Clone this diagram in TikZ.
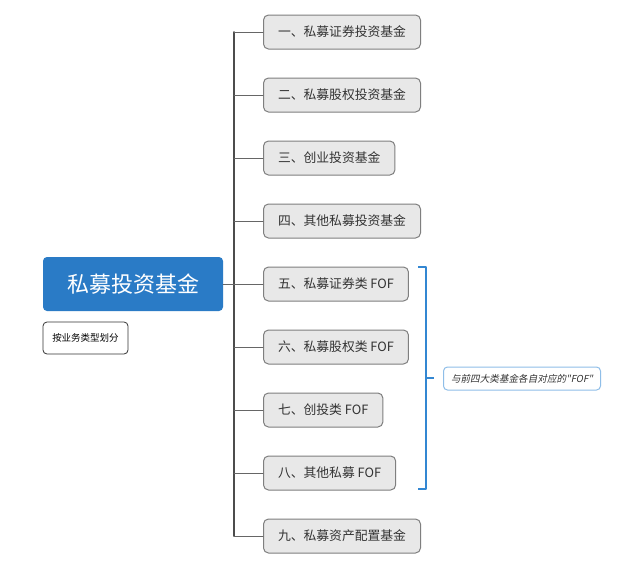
\documentclass[tikz,border=0pt]{standalone}
\usepackage{fontspec}
\usepackage{xcolor}
\usepackage{tikz}
\usetikzlibrary{positioning}
\newfontfamily\cjk{Noto Sans CJK SC}
\newfontfamily\cjkslant[FakeSlant=0.2]{Noto Sans CJK SC}
\definecolor{rootblue}{HTML}{2A7BC6}
\definecolor{bracketblue}{HTML}{3387D2}
\definecolor{noteblue}{HTML}{8FBEE8}
\definecolor{boxgray}{HTML}{E8E8E8}
\definecolor{edgegray}{HTML}{7F7F7F}
\definecolor{textgray}{HTML}{333333}
\tikzset{
  rootbox/.style={rectangle,rounded corners=4pt,fill=rootblue,text=white,
    minimum width=180pt,minimum height=54pt,font=\cjk\fontsize{22}{24}\selectfont},
  kindbox/.style={rectangle,rounded corners=5pt,draw=edgegray,line width=1pt,fill=boxgray,
    text=textgray,anchor=west,inner xsep=14.5pt,minimum height=34pt,
    font=\cjk\fontsize{12.8}{14}\selectfont},
  tagbox/.style={rectangle,rounded corners=4pt,draw=black!80,line width=0.8pt,fill=white,
    text=black,minimum width=85pt,minimum height=32pt,font=\cjk\fontsize{9.5}{11}\selectfont},
  notebox/.style={rectangle,rounded corners=4pt,draw=noteblue,line width=1pt,fill=white,
    text=textgray,anchor=west,minimum width=157pt,minimum height=23pt,
    font=\cjkslant\fontsize{9.6}{11}\selectfont},
  trunk/.style={draw=black!70,line width=1.6pt},
  twig/.style={draw=black!60,line width=1pt}
}
\begin{document}
\begin{tikzpicture}[line cap=round,line join=round,x=1pt,y=-1pt]
\useasboundingbox[fill=white] (0,0) rectangle (635,579);
% main topic and its note
\node[rootbox] (root) at (133,284) {私募投资基金};
\node[tagbox] (tag) at (85.5,338) {按业务类型划分};
% the nine kinds
\node[kindbox] (k1) at (263,32) {一、私募证券投资基金};
\node[kindbox] (k2) at (263,95) {二、私募股权投资基金};
\node[kindbox] (k3) at (263,158) {三、创业投资基金};
\node[kindbox] (k4) at (263,221) {四、其他私募投资基金};
\node[kindbox] (k5) at (263,284) {五、私募证券类 FOF};
\node[kindbox] (k6) at (263,347) {六、私募股权类 FOF};
\node[kindbox] (k7) at (263,410) {七、创投类 FOF};
\node[kindbox] (k8) at (263,473) {八、其他私募 FOF};
\node[kindbox] (k9) at (263,536) {九、私募资产配置基金};
% trunk and branches
\coordinate (ttop) at (234,32);
\coordinate (tbot) at (234,536);
\draw[trunk] (ttop) -- (tbot);
\draw[twig] (root.east) -- (root.east -| ttop);
\draw[twig] (k1.west) -- (k1.west -| ttop);
\draw[twig] (k2.west) -- (k2.west -| ttop);
\draw[twig] (k3.west) -- (k3.west -| ttop);
\draw[twig] (k4.west) -- (k4.west -| ttop);
\draw[twig] (k5.west) -- (k5.west -| ttop);
\draw[twig] (k6.west) -- (k6.west -| ttop);
\draw[twig] (k7.west) -- (k7.west -| ttop);
\draw[twig] (k8.west) -- (k8.west -| ttop);
\draw[twig] (k9.west) -- (k9.west -| ttop);
% bracket over the FOF kinds
\coordinate (btop) at (426,267);
\coordinate (bbot) at (426,489);
\coordinate (bmid) at (426,378);
\coordinate (btip) at (434,378);
\draw[bracketblue,line width=1.6pt,line cap=butt] (418,267) -- (btop) -- (bbot) -- (418,489);
\draw[bracketblue,line width=1.2pt,line cap=butt] (bmid) -- (btip);
\node[notebox] (note) at (443,378.5) {与前四大类基金各自对应的"FOF"};
\end{tikzpicture}
\end{document}
